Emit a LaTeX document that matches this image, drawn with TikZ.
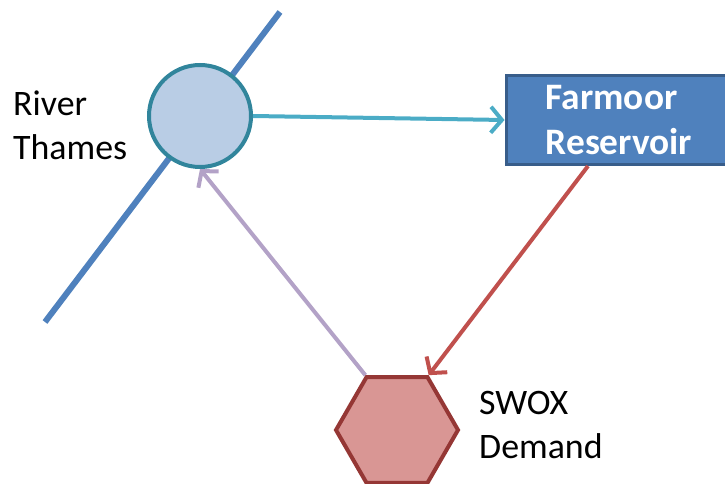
\documentclass[tikz,border=0pt]{standalone}
\usepackage{fontspec}
\setmainfont{Carlito}
\usetikzlibrary{shapes.geometric, arrows.meta, positioning}
\definecolor{riverblue}{HTML}{4F81BD}
\definecolor{junctionfill}{HTML}{B9CDE5}
\definecolor{junctionline}{HTML}{31859C}
\definecolor{resline}{HTML}{385D8A}
\definecolor{demandfill}{HTML}{D99694}
\definecolor{demandline}{HTML}{953735}
\definecolor{abstract}{HTML}{4BACC6}
\definecolor{supply}{HTML}{C0504D}
\definecolor{returnflow}{HTML}{B3A2C7}
\tikzstyle{junction} = [
    circle,
    minimum size=102bp,
    inner sep=0pt,
    line width=4bp,
    draw=junctionline,
    fill=junctionfill
]
\tikzstyle{reservoir} = [
    rectangle,
    minimum width=226bp,
    minimum height=89bp,
    line width=3bp,
    align=left,
    draw=resline,
    fill=riverblue,
    text=white,
    font=\fontsize{37.5}{45}\selectfont\bfseries
]
\tikzstyle{demand} = [
    regular polygon,
    regular polygon sides=6,
    minimum size=122bp,
    inner sep=0pt,
    line width=4bp,
    draw=demandline,
    fill=demandfill
]
\tikzstyle{label} = [
    anchor=north west,
    inner sep=0pt,
    align=left,
    font=\fontsize{36}{44}\selectfont
]
\tikzstyle{arrow} = [line width=4bp,-{Straight Barb[length=11bp,width=26bp]}]

\begin{document}
\begin{tikzpicture}[x=1bp, y=-1bp]
\useasboundingbox (0,0) rectangle (725,484);

% River
\coordinate (upstream) at (280,12);
\coordinate (downstream) at (45,322);
\draw [riverblue, line width=6bp] (upstream) -- (downstream);

% Nodes
\node (thames) [junction] at (200,116) {};
\node (farmoor) [reservoir] at (619,120) {Farmoor\\Reservoir};
\node (swox) [demand] at (397,430) {};
\node (thameslabel) [label] at (13,91) {River\\Thames};
\node (swoxlabel) [label] at (479,391) {SWOX\\Demand};

% Arrows
\draw [arrow, abstract] (thames.east) -- (farmoor.west);
\draw [arrow, supply] ([xshift=-31bp]farmoor.south) -- (swox.corner 1);
\draw [arrow, returnflow] (swox.corner 2) -- (thames.south);

\end{tikzpicture}
\end{document}
